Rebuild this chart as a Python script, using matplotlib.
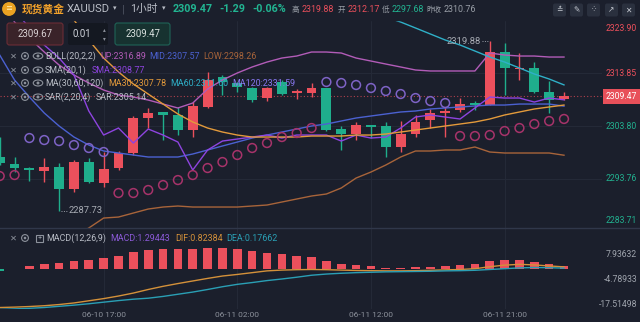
import matplotlib
matplotlib.use('Agg')
import matplotlib.pyplot as plt
import numpy as np
from matplotlib.patches import Rectangle, FancyBboxPatch, Circle, Ellipse

plt.rcParams['font.family'] = ['Roboto', 'Noto Sans CJK SC', 'DejaVu Sans']

# ---------------- data ----------------
opens = [2297.97, 2296.59, 2295.89, 2295.32, 2296.08, 2291.79, 2296.91, 2293.04, 2295.77, 2298.62,
         2305.26, 2306.40, 2305.89, 2303.04, 2307.46, 2313.04, 2311.90, 2310.95, 2309.06, 2312.15,
         2310.06, 2310.00, 2310.95, 2303.17, 2302.23, 2303.99, 2303.80, 2299.76, 2302.23, 2304.94,
         2306.32, 2306.84, 2308.22, 2307.78, 2317.90, 2314.60, 2314.75, 2310.31, 2308.92]
highs = [2301.71, 2297.97, 2296.00, 2297.67, 2296.84, 2297.35, 2297.78, 2298.92, 2299.10, 2305.70,
         2307.16, 2306.50, 2307.46, 2308.41, 2313.99, 2313.48, 2312.15, 2311.20, 2311.26, 2312.50,
         2310.76, 2312.02, 2311.00, 2303.80, 2304.62, 2303.99, 2304.62, 2304.80, 2305.89, 2307.03,
         2307.46, 2309.06, 2308.60, 2319.88, 2319.60, 2317.60, 2315.89, 2312.40, 2310.31]
lows = [2296.40, 2295.13, 2293.42, 2293.23, 2287.73, 2291.33, 2293.04, 2292.28, 2295.45, 2298.30,
        2303.36, 2301.14, 2302.09, 2301.66, 2307.16, 2309.68, 2310.30, 2308.40, 2308.60, 2309.68,
        2308.87, 2309.25, 2302.85, 2299.25, 2301.14, 2301.47, 2297.97, 2298.92, 2301.77, 2303.36,
        2301.77, 2306.50, 2306.84, 2307.78, 2309.68, 2312.53, 2310.00, 2306.21, 2308.73]
closes = [2296.72, 2295.89, 2295.45, 2296.08, 2291.79, 2296.91, 2293.23, 2295.64, 2298.73, 2305.26,
          2306.32, 2305.89, 2303.04, 2307.60, 2312.53, 2312.21, 2311.26, 2308.73, 2310.95, 2309.87,
          2310.25, 2310.95, 2303.04, 2302.23, 2303.93, 2303.70, 2299.76, 2302.28, 2304.62, 2306.21,
          2306.70, 2307.97, 2307.78, 2317.90, 2314.75, 2314.90, 2310.31, 2308.73, 2309.47]

boll_up = [2328.50, 2323.53, 2320.50, 2317.84, 2315.37, 2313.48, 2311.96, 2310.63, 2309.68, 2309.30,
           2308.73, 2307.97, 2307.22, 2308.16, 2310.82, 2312.53, 2313.86, 2315.00, 2315.94, 2316.70,
           2317.08, 2317.84, 2317.84, 2317.65, 2316.70, 2316.13, 2315.56, 2315.00, 2314.43, 2314.24,
           2314.24, 2314.24, 2314.24, 2317.65, 2317.27, 2317.08, 2317.08, 2316.89, 2316.89]
boll_mid = [2317.27, 2312.53, 2309.30, 2306.27, 2303.80, 2301.71, 2300.19, 2299.06, 2298.68, 2298.30,
            2297.92, 2297.92, 2297.92, 2298.49, 2299.25, 2300.01, 2300.76, 2301.52, 2302.09, 2302.66,
            2303.23, 2303.80, 2304.18, 2304.75, 2305.32, 2305.70, 2306.08, 2306.46, 2306.65, 2307.03,
            2307.22, 2307.41, 2307.60, 2307.78, 2307.78, 2307.97, 2307.97, 2307.97, 2307.57]
boll_low = [2272.68, 2274.58, 2276.86, 2279.13, 2281.22, 2282.93, 2284.45, 2286.34, 2286.53, 2287.29,
            2288.05, 2288.43, 2288.62, 2288.43, 2288.43, 2288.43, 2288.43, 2288.62, 2288.81, 2289.38,
            2289.95, 2290.52, 2290.90, 2292.04, 2293.93, 2295.07, 2296.40, 2297.92, 2299.06, 2299.06,
            2299.25, 2299.25, 2299.82, 2298.87, 2298.68, 2298.68, 2298.68, 2298.68, 2298.26]
sma20 = [2328.66, 2325.81, 2322.40, 2319.17, 2316.70, 2313.48, 2306.65, 2302.09, 2303.42, 2300.57,
         2303.23, 2302.09, 2300.76, 2295.45, 2299.25, 2300.95, 2301.33, 2301.71, 2302.09, 2301.52,
         2302.09, 2302.09, 2302.09, 2300.95, 2302.09, 2301.52, 2301.71, 2303.42, 2305.51, 2305.89,
         2305.51, 2305.13, 2307.22, 2309.30, 2309.11, 2309.11, 2308.35, 2309.11, 2308.77]
ma30 = [2335.30, 2333.40, 2331.12, 2328.85, 2326.57, 2323.91, 2320.12, 2316.70, 2314.05, 2311.77,
        2309.87, 2307.97, 2306.08, 2304.56, 2303.42, 2302.66, 2302.09, 2301.71, 2301.71, 2301.71,
        2301.71, 2301.90, 2301.90, 2301.90, 2302.09, 2302.09, 2302.28, 2302.66, 2303.04, 2303.42,
        2303.80, 2304.18, 2304.56, 2305.13, 2305.89, 2306.46, 2307.03, 2307.41, 2307.78]
ma60 = [None] * 25 + [2326.00, 2324.48, 2323.53, 2322.40, 2321.26, 2320.12, 2319.17, 2318.03,
                      2316.89, 2315.94, 2314.81, 2313.67, 2312.72, 2311.60]
sar = [2294.31, 2294.50, 2301.52, 2301.14, 2300.95, 2300.19, 2299.63, 2298.87, 2291.09, 2291.09,
       2291.66, 2292.60, 2293.55, 2294.50, 2295.83, 2296.97, 2298.30, 2299.63, 2300.57, 2301.71,
       2302.47, 2303.42, 2312.15, 2311.96, 2311.58, 2311.01, 2310.44, 2309.87, 2309.11, 2308.54,
       2308.16, 2301.90, 2301.90, 2302.09, 2302.85, 2303.42, 2304.18, 2304.75, 2305.14]

macd_hist = [-1.5, -0.5, 1.2, 2.5, 3.0, 3.9, 4.5, 5.1, 6.2, 8.1,
             9.3, 9.6, 9.6, 9.6, 10.4, 10.1, 9.6, 8.9, 7.6, 7.2,
             6.4, 5.9, 3.9, 2.5, 1.7, 1.2, 0.5, 0.5, 0.7, 1.0,
             1.3, 1.7, 2.2, 3.9, 4.5, 4.4, 3.2, 2.5, 1.29]
dif = [-19.7, -19.5, -19.2, -18.8, -18.2, -17.4, -16.3, -15.2, -13.9, -12.4,
       -10.6, -9.0, -7.6, -6.3, -5.0, -3.8, -3.0, -2.1, -1.2, -0.8,
       -0.6, -0.5, -0.6, -0.8, -1.0, -1.1, -1.2, -1.2, -1.1, -0.9,
       -0.7, -0.5, -0.1, 0.9, 1.7, 2.1, 1.8, 1.3, 0.82]
dea = [-20.7, -20.4, -20.1, -19.7, -19.1, -18.5, -17.8, -17.0, -16.2, -15.5,
       -15.0, -14.1, -13.0, -11.9, -10.6, -9.2, -8.0, -7.1, -6.1, -5.3,
       -4.4, -3.4, -2.8, -2.4, -2.1, -1.9, -1.7, -1.6, -1.5, -1.4,
       -1.2, -1.1, -0.9, -0.5, -0.1, 0.3, 0.5, 0.4, 0.18]

time_tick_pos = [7, 16, 25, 34]
time_tick_labels = ['06-10 17:00', '06-11 02:00', '06-11 12:00', '06-11 21:00']
price_ticks = [2323.90, 2313.85, 2303.80, 2293.76, 2283.71]
macd_ticks = [7.93632, -4.78933, -17.51498]
last_price = 2309.47
day_high, day_low = 2319.88, 2287.73

# ---------------- style ----------------
BG = '#1b1f2c'
RED = '#ec505c'
GREEN = '#1fae8c'
GRID = '#252a38'
GRAY = '#b9bdc6'
DIM = '#8d929c'
C_UP = '#b25cb8'
C_MID = '#4b61d1'
C_LOW = '#a8643a'
C_SMA = '#8e44e0'
C_MA30 = '#e39a3b'
C_MA60 = '#2fb0c8'
C_MA120 = '#8878f0'
C_SAR_HI = '#7e63c6'
C_SAR_LO = '#a7336a'
C_DIF = '#d4913a'
C_DEA = '#2a9fb5'
C_MACD = '#8c5ad8'

W, H = 640, 322
fig = plt.figure(figsize=(6.4, 3.22), dpi=100)
fig.patch.set_facecolor(BG)
renderer = fig.canvas.get_renderer()


def fit(text, target_px, weight='normal'):
    t = fig.text(0, 0, text, fontsize=10, fontweight=weight)
    w = t.get_window_extent(renderer).width
    t.remove()
    return 10.0 * target_px / w


LF = np.mean([fit('BOLL(20,2,2)', 53), fit('MA(30,60,120)', 58), fit('LOW:2298.26', 51),
              fit('MACD(12,26,9)', 60), fit('SAR:2305.14', 48)])
AF = fit('2323.90', 31)
DF = fit('06-10 17:00', 43)
HF = fit('XAUUSD', 43)
HBF = fit('2309.47', 40, 'bold')
SF = fit('2319.88', 34)
HSF = fit('2319.88', 32)
BF = fit('2309.67', 35)

CANDLE_PX, X0_PX = 14.85, -0.3
x_lo = (0 - X0_PX) / CANDLE_PX
x_hi = (602 - X0_PX) / CANDLE_PX
PANE_BOT = 228
Y_TOP, Y_BOT = 2327.71, 2284.45


def clean(ax):
    ax.set_facecolor(BG)
    for s in ax.spines.values():
        s.set_visible(False)


ax = fig.add_axes([0, 1 - PANE_BOT / H, 602 / W, PANE_BOT / H])
clean(ax)
ax.set_xlim(x_lo, x_hi)
ax.set_ylim(Y_BOT, Y_TOP)
ax.set_xticks([])
ax.set_yticks([])

o = np.array(opens); c = np.array(closes); hi = np.array(highs); lo = np.array(lows)
idx = np.arange(len(o))
up = c >= o
cols = np.where(up, RED, GREEN)

for p in price_ticks:
    ax.axhline(p, color=GRID, lw=0.7, zorder=0)
for t in time_tick_pos:
    ax.axvline(t, color=GRID, lw=0.7, zorder=0)

ax.vlines(idx, lo, hi, colors=cols, lw=1.0, zorder=2)
body = np.maximum(np.abs(c - o), 0.3)
ax.bar(idx, body, bottom=np.minimum(o, c), width=0.66, color=cols, zorder=3)


def arr(v):
    return np.array([np.nan if x is None else x for x in v], dtype=float)


ax.plot(idx, arr(boll_up), color=C_UP, lw=1.0, zorder=4)
ax.plot(idx, arr(boll_mid), color=C_MID, lw=1.0, zorder=4)
ax.plot(idx, arr(boll_low), color=C_LOW, lw=1.0, zorder=4)
ax.plot(idx, arr(sma20), color=C_SMA, lw=1.0, zorder=4)
ax.plot(idx, arr(ma30), color=C_MA30, lw=1.0, zorder=4)
ax.plot(idx, arr(ma60), color=C_MA60, lw=1.0, zorder=4)

s = arr(sar)
above = s > c
ax.scatter(idx[above], s[above], s=40, facecolors='none', edgecolors=C_SAR_HI, linewidths=1.1, zorder=5)
ax.scatter(idx[~above], s[~above], s=40, facecolors='none', edgecolors=C_SAR_LO, linewidths=1.1, zorder=5)

ax.axhline(last_price, color='#b0404c', lw=0.8, ls=(0, (1, 2)), zorder=1)

# high / low markers
ih = int(np.argmax(hi)); il = int(np.argmin(lo))
ax.plot([ih - 0.55, ih - 0.1], [day_high, day_high], color='#9a9ea8', lw=0.7, ls=(0, (1, 1.5)), zorder=6)
ax.text(ih - 0.58, day_high, f'{day_high:.2f}', color='#a9adb5', fontsize=SF, ha='right', va='center', zorder=6)
ax.plot([il + 0.1, il + 0.55], [day_low, day_low], color='#9a9ea8', lw=0.7, ls=(0, (1, 1.5)), zorder=6)
ax.text(il + 0.62, day_low, f'{day_low:.2f}', color='#a9adb5', fontsize=SF, ha='left', va='center', zorder=6)

# MACD pane
MB, MT = 309, 228
axm = fig.add_axes([0, 1 - MB / H, 602 / W, (MB - MT) / H])
clean(axm)
axm.set_xlim(x_lo, x_hi)
axm.set_ylim(-20.45, 20.45)
axm.set_yticks([])
axm.set_xticks(time_tick_pos)
axm.set_xticklabels(time_tick_labels)
axm.tick_params(axis='x', length=0, pad=2.5, labelsize=DF, labelcolor=DIM)
for t in time_tick_pos:
    axm.axvline(t, color=GRID, lw=0.7, zorder=0)
mh = np.array(macd_hist)
axm.bar(idx, mh, width=0.58, color=np.where(mh >= 0, RED, GREEN), zorder=2)
axm.plot(idx, dif, color=C_DIF, lw=1.0, zorder=3)
axm.plot(idx, dea, color=C_DEA, lw=1.0, zorder=3)

# ---------------- overlay (UI) ----------------
ov = fig.add_axes([0, 0, 1, 1])
ov.set_xlim(0, W); ov.set_ylim(H, 0); ov.axis('off'); ov.set_zorder(10)

ov.add_patch(Rectangle((0, 0), W, 20, color=BG, zorder=1))
ov.plot([0, W], [PANE_BOT, PANE_BOT], color='#30374a', lw=1.0, zorder=2)

# header
ov.add_patch(Circle((9, 9), 6.2, color='#eaa322', zorder=3))
ov.text(9, 9.3, '≡', color='#fff2c0', fontsize=5, ha='center', va='center', zorder=4)
hdr = dict(va='center', zorder=4)
ov.text(22, 9, '现货黄金', color='#f2a12a', fontsize=HF * 0.95, fontweight='bold', **hdr)
ov.text(67, 9, 'XAUUSD', color=GRAY, fontsize=HF, **hdr)
ov.text(113, 9, '▾', color=GRAY, fontsize=5, **hdr)
ov.text(122, 9, '|', color='#4a505e', fontsize=HF, **hdr)
ov.text(130, 9, '1小时', color=GRAY, fontsize=HF * 0.95, **hdr)
ov.text(162, 9, '▾', color=GRAY, fontsize=5, **hdr)
ov.text(173, 9, f'{last_price:.2f}', color='#22b592', fontsize=HBF, fontweight='bold', **hdr)
ov.text(219, 9, '-1.29', color='#22b592', fontsize=HBF, fontweight='bold', **hdr)
ov.text(252, 9, '-0.06%', color='#22b592', fontsize=HBF, fontweight='bold', **hdr)
HDR_GRAY = '#9a9fa8'
ov.text(292, 9, '高', color=HDR_GRAY, fontsize=HSF * 0.85, **hdr)
ov.text(302, 9, f'{day_high:.2f}', color=RED, fontsize=HSF, **hdr)
ov.text(338, 9, '开', color=HDR_GRAY, fontsize=HSF * 0.85, **hdr)
ov.text(348, 9, '2312.17', color=RED, fontsize=HSF, **hdr)
ov.text(382, 9, '低', color=HDR_GRAY, fontsize=HSF * 0.85, **hdr)
ov.text(392, 9, '2297.68', color='#22b592', fontsize=HSF, **hdr)
ov.text(426, 9, '昨收', color=HDR_GRAY, fontsize=HSF * 0.85, **hdr)
ov.text(444, 9, '2310.76', color=HDR_GRAY, fontsize=HSF, **hdr)

for bx, g in zip([553, 570, 587, 605, 622], ['≛', '✎', '⁘', '↗', '✕']):
    ov.add_patch(FancyBboxPatch((bx, 3.5), 13, 13, boxstyle='round,pad=0,rounding_size=2',
                                fc='#2a303e', ec='none', zorder=3))
    ov.text(bx + 6.5, 10, g, color='#c8ccd4', fontsize=5.5, ha='center', va='center',
            family=['DejaVu Sans'], zorder=4)

# order boxes
ov.add_patch(FancyBboxPatch((7, 23), 56, 22, boxstyle='round,pad=0,rounding_size=2.5',
                            fc='#3a2329', ec='#6b2d36', lw=0.8, zorder=3))
ov.text(35, 34, '2309.67', color='#d8d0d2', fontsize=BF, ha='center', va='center', zorder=4)
ov.add_patch(FancyBboxPatch((68, 23), 40, 22, boxstyle='round,pad=0,rounding_size=2',
                            fc='#141821', ec='none', zorder=3))
ov.text(82, 34, '0.01', color='#d0d3da', fontsize=BF, ha='center', va='center', zorder=4)
ov.text(104, 29.5, '▴', color=DIM, fontsize=4, ha='center', va='center', family=['DejaVu Sans'], zorder=4)
ov.text(104, 38.5, '▾', color=DIM, fontsize=4, ha='center', va='center', family=['DejaVu Sans'], zorder=4)
ov.add_patch(FancyBboxPatch((115, 23), 55, 22, boxstyle='round,pad=0,rounding_size=2.5',
                            fc='#173230', ec='#1f6356', lw=0.8, zorder=3))
ov.text(142.5, 34, f'{last_price:.2f}', color='#d8e0de', fontsize=BF, ha='center', va='center', zorder=4)


def icons(y, third='eye'):
    ov.text(13, y, '✕', color=DIM, fontsize=LF * 0.95, ha='center', va='center', family=['DejaVu Sans'], zorder=4)
    ov.add_patch(Circle((25, y), 3.4, fc='none', ec=DIM, lw=0.8, zorder=4))
    ov.add_patch(Circle((25, y), 1.3, fc=DIM, ec='none', zorder=4))
    if third == 'eye':
        ov.add_patch(Ellipse((38, y), 9.5, 6, fc='none', ec=DIM, lw=0.8, zorder=4))
        ov.add_patch(Circle((38, y), 1.5, fc=DIM, ec='none', zorder=4))
    else:
        ov.add_patch(Rectangle((36, y - 3.5), 7, 7, fc='none', ec=DIM, lw=0.8, zorder=4))
        ov.text(39.5, y, '+', color=DIM, fontsize=5.5, ha='center', va='center', zorder=4)


rows = [
    (56, [(45, 'BOLL(20,2,2)', GRAY), (100, f'UP:{boll_up[-1]:.2f}', C_UP),
          (149, f'MID:{boll_mid[-1]:.2f}', C_MID), (203, f'LOW:{boll_low[-1]:.2f}', C_LOW)]),
    (70, [(45, 'SMA(20,1)', GRAY), (92, f'SMA:{sma20[-1]:.2f}', C_SMA)]),
    (83, [(45, 'MA(30,60,120)', GRAY), (108, f'MA30:{ma30[-1]:.2f}', C_MA30),
          (170, f'MA60:{ma60[-1]:.2f}', C_MA60), (232, 'MA120:2331.59', C_MA120)]),
    (97, [(45, 'SAR(2,20,4)', GRAY), (96, f'SAR:{sar[-1]:.2f}', GRAY)]),
]
for y, items in rows:
    icons(y, 'eye')
    for x, t, col in items:
        ov.text(x, y, t, color=col, fontsize=LF, va='center', zorder=4)

icons(238, 'box')
for x, t, col in [(46, 'MACD(12,26,9)', GRAY), (110, f'MACD:{1.29443:.5f}', C_MACD),
                  (175, 'DIF:0.82384', C_DIF), (226, 'DEA:0.17662', C_DEA)]:
    ov.text(x, 238, t, color=col, fontsize=LF, va='center', zorder=4)

# right price labels
for p in price_ticks:
    ypx = (Y_TOP - p) / (Y_TOP - Y_BOT) * PANE_BOT
    ypx = min(max(ypx, 28), 220)
    ov.text(637, ypx, f'{p:.2f}', color=RED if p > last_price else '#22b08f',
            fontsize=AF, ha='right', va='center', zorder=4)
ylp = (Y_TOP - last_price) / (Y_TOP - Y_BOT) * PANE_BOT
ov.add_patch(Rectangle((603, ylp - 7.5), 37, 15, fc='#e8505a', ec='none', zorder=3))
ov.text(621.5, ylp, f'{last_price:.2f}', color='white', fontsize=AF, ha='center', va='center', zorder=4)

for v in macd_ticks:
    ypx = MT + (20.45 - v) / 40.9 * (MB - MT)
    ov.text(637, ypx + 1.5, f'{v:.5f}', color='#a0a5ae', fontsize=AF, ha='right', va='center', zorder=4)

fig.savefig('out.png', dpi=100, facecolor=BG)
